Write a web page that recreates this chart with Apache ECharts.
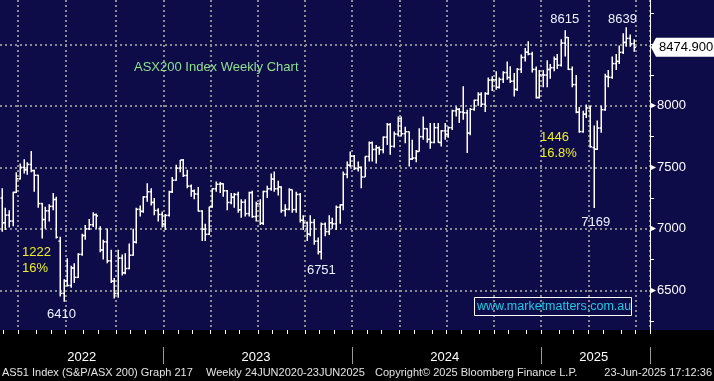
<!DOCTYPE html>
<html>
<head>
<meta charset="utf-8">
<script src="https://cdn.jsdelivr.net/npm/echarts@6/dist/echarts.min.js"></script>
<style>
html,body{margin:0;padding:0;background:#000;}
#c{width:714px;height:381px;}
</style>
</head>
<body>
<div id="c"></div>
<script>
// ---- data (weekly OHLC, ASX200, weeks ending Friday starting 25 Feb 2022) ----
const firstWeek = '2022-02-25';
const futureWeeks = 4;
const opens = [7250,7049,7111,7063,7296,7406,7499,7479,7523,7473,
7435,7205,7075,7146,7182,7238,6900,6475,6578,6539,
6681,6605,6792,6945,6999,7033,7115,7000,6828,6894,
6739,6574,6474,6762,6642,6677,6785,6892,7158,7142,
7259,7301,7214,7149,7116,7038,7109,7300,7395,7493,
7559,7433,7347,7307,7283,7144,6996,6955,7178,7325,
7362,7366,7309,7214,7256,7279,7154,7216,7123,7294,
7099,7203,7045,7303,7325,7404,7325,7340,7148,7158,
7318,7156,7279,7069,7048,6956,7051,6899,6813,7038,
6977,7049,7040,7175,7195,7443,7517,7590,7489,7499,
7421,7588,7699,7645,7659,7643,7745,7847,7670,7770,
7896,7773,7789,7567,7575,7629,7749,7814,7727,7702,
7822,7702,7796,7768,7822,7959,7971,7949,7943,7778,
7971,8045,8092,8013,8099,8209,8212,8150,8214,8270,
8230,8200,8133,8296,8393,8436,8421,8296,8067,8251,
8250,8295,8310,8380,8330,8510,8555,8296,8172,7948,
7790,7932,7982,7660,7647,7819,7968,8238,8231,8343,
8361,8434,8515,8548,8505];
const highs = [7330,7170,7150,7300,7460,7530,7565,7540,7632,7480,
7440,7210,7180,7200,7290,7260,6935,6590,6760,6700,
6720,6800,6960,7030,7080,7135,7125,7020,6910,7003,
6830,6600,6830,6790,6800,6880,7000,7170,7190,7265,
7370,7330,7250,7166,7140,7120,7310,7420,7520,7560,
7568,7480,7360,7320,7340,7150,7040,7180,7330,7385,
7380,7370,7315,7290,7290,7300,7240,7240,7300,7310,
7220,7240,7310,7350,7450,7465,7390,7345,7200,7330,
7320,7300,7290,7110,7060,7110,7080,6930,7050,7050,
7110,7090,7190,7200,7465,7546,7628,7600,7546,7506,
7590,7709,7710,7682,7669,7750,7860,7860,7791,7913,
7913,7830,7791,7723,7641,7818,7913,7818,7859,7860,
7860,7804,7859,7832,7968,7995,7981,8158,7968,7981,
8050,8110,8110,8110,8230,8240,8280,8230,8280,8361,
8321,8266,8307,8416,8470,8524,8440,8320,8290,8290,
8370,8340,8400,8420,8540,8615,8560,8320,8250,7990,
7960,8010,8000,7840,7880,8000,8260,8290,8400,8420,
8490,8590,8639,8580,8540];
const lows = [6975,6990,7010,7020,7290,7400,7450,7440,7460,7300,
7170,6920,7000,7060,7150,6920,6450,6406,6530,6520,
6560,6600,6780,6910,6990,7015,7000,6810,6750,6720,
6560,6433,6440,6620,6630,6670,6780,6880,7100,7130,
7220,7190,7110,7060,7010,6990,7100,7290,7390,7460,
7420,7330,7260,7240,7140,6900,6900,6950,7170,7300,
7290,7260,7150,7200,7170,7130,7090,7100,7100,7090,
7060,7030,7030,7250,7310,7300,7270,7130,7100,7150,
7130,7130,7050,6990,6900,6940,6870,6790,6751,6940,
6950,7000,6990,7040,7150,7410,7500,7478,7465,7330,
7420,7546,7546,7530,7601,7614,7682,7601,7660,7750,
7750,7696,7506,7560,7540,7628,7723,7700,7650,7696,
7700,7669,7723,7740,7804,7913,7859,7886,7617,7760,
7960,8000,7990,7950,8090,8120,8130,8140,8185,8212,
8185,8076,8120,8266,8361,8410,8270,8060,8060,8150,
8150,8220,8280,8300,8320,8400,8290,8150,7940,7780,
7780,7900,7660,7169,7640,7780,7960,8150,8220,8290,
8340,8420,8480,8480,8440];
const closes = [7049,7111,7063,7296,7406,7499,7479,7523,7473,7435,
7205,7075,7146,7182,7238,6931,6475,6578,6539,6681,
6605,6792,6945,6999,7033,7115,7105,6828,6894,6739,
6574,6474,6762,6642,6677,6785,6892,7158,7142,7259,
7301,7214,7149,7116,7038,7109,7300,7395,7493,7559,
7433,7347,7307,7283,7144,6996,6955,7178,7325,7362,
7366,7309,7214,7256,7279,7154,7216,7123,7294,7099,
7203,7045,7303,7325,7404,7325,7340,7148,7158,7318,
7156,7279,7069,7048,6956,7051,6899,6813,7038,6977,
7049,7040,7175,7195,7443,7517,7590,7489,7499,7421,
7588,7699,7645,7659,7643,7745,7847,7670,7770,7896,
7773,7789,7567,7575,7629,7749,7814,7727,7702,7822,
7702,7796,7768,7822,7959,7971,7949,7943,7778,7971,
8045,8092,8013,8099,8209,8212,8150,8214,8270,8230,
8200,8133,8296,8393,8436,8421,8296,8067,8251,8250,
8295,8310,8380,8330,8510,8555,8296,8172,7948,7790,
7932,7982,7667,7647,7819,7968,8238,8231,8343,8361,
8434,8515,8548,8505,8474.9];

const yGridValues = [6500, 7000, 7500, 8000, 8500];
const yTickValues = [6250, 6500, 6750, 7000, 7250, 7500, 7750, 8000, 8250, 8500, 8750];
const yLabelValues = [6500, 7000, 7500, 8000];
const lastPrice = 8474.9;
const extremeLabels = [
  {text: '8615', week: 155, value: 8615},
  {text: '8639', week: 172, value: 8639},
  {text: '7169', week: 163, value: 7169},
  {text: '6751', week: 88,  value: 6751},
  {text: '6410', week: 17,  value: 6406}
];
const footerParts = ['AS51 Index (S&P/ASX 200) Graph 217', 'Weekly 24JUN2020-23JUN2025',
  'Copyright\u00A9 2025 Bloomberg Finance L.P.', '23-Jun-2025 17:12:36'];

// ---- categories ----
const t0 = Date.parse(firstWeek + 'T00:00:00Z');
const weeks = [];
for (let i = 0; i < opens.length + futureWeeks; i++) {
  weeks.push(new Date(t0 + i * 7 * 86400000).toISOString().slice(0, 10));
}
const mon = s => +s.slice(5, 7);
const monthStart = weeks.map((w, i) => i > 0 && mon(w) !== mon(weeks[i - 1]));
const quarterStart = weeks.map((w, i) => monthStart[i] && (mon(w) - 1) % 3 === 0);
const yearStart = weeks.map((w, i) => monthStart[i] && mon(w) === 1);
const yearLabelIdx = {};
(function () {
  const span = {};
  weeks.forEach((w, i) => {
    const y = w.slice(0, 4);
    if (!span[y]) span[y] = [i, i]; else span[y][1] = i;
  });
  Object.keys(span).forEach(y => { yearLabelIdx[Math.floor((span[y][0] + span[y][1]) / 2)] = y; });
})();

const ohlc = opens.map((o, i) => [i, o, highs[i], lows[i], closes[i]]);

const FONT = 'Liberation Sans';
const GRID_COLOR = '#8c8c8c';
const NAVY = '#0e0c48';

const chart = echarts.init(document.getElementById('c'), null, {width: 714, height: 381});

const option = {
  backgroundColor: NAVY,
  animation: false,
  grid: {left: 0, top: 0, width: 650, height: 330, containLabel: false},
  xAxis: [{
    type: 'category', data: weeks, boundaryGap: true,
    axisLine: {show: false},
    axisTick: {show: true, length: 4, interval: (i) => monthStart[i], lineStyle: {color: '#fff', width: 1}},
    axisLabel: {show: false},
    splitLine: {show: true, interval: (i) => quarterStart[i], lineStyle: {color: GRID_COLOR, width: 2, type: [2, 3]}}
  }, {
    type: 'category', data: weeks, boundaryGap: true, position: 'bottom', offset: 17,
    axisLine: {show: false},
    axisTick: {show: true, length: 17, interval: (i) => yearStart[i], lineStyle: {color: '#9a9a9a', width: 1}},
    axisLabel: {show: true, interval: (i) => yearLabelIdx[i] !== undefined, margin: 4,
      formatter: (v) => v.slice(0, 4), color: '#ffffff', fontFamily: FONT, fontSize: 13},
    splitLine: {show: false}
  }],
  yAxis: {
    type: 'value', position: 'right', min: 6177, max: 8860, scale: true,
    axisLine: {show: true, lineStyle: {color: '#ffffff', width: 1}},
    axisTick: {show: true, length: 4, customValues: yTickValues, lineStyle: {color: '#ffffff'}},
    splitLine: {show: false},
    axisLabel: {
      show: true, customValues: yLabelValues, margin: 1,
      formatter: (v) => '{ar|\u25B8}{v|' + v + '}',
      rich: {
        ar: {color: '#ffffff', fontSize: 10, fontFamily: 'DejaVu Sans', padding: [0, 1, 0, 0]},
        v: {color: '#ffffff', fontSize: 13, fontFamily: FONT}
      }
    }
  },
  series: [{
    type: 'custom',
    name: 'AS51',
    data: ohlc,
    encode: {x: 0, y: [1, 2, 3, 4]},
    clip: true,
    z: 5,
    renderItem: function (params, api) {
      const i = api.value(0);
      const hi = api.coord([i, api.value(2)]);
      const lo = api.coord([i, api.value(3)]);
      const op = api.coord([i, api.value(1)]);
      const cl = api.coord([i, api.value(4)]);
      const bw = api.size([1, 0])[0];
      const x = Math.round(hi[0]) + 0.25;
      const t = bw * 0.5;
      const st = {stroke: '#ffffff', lineWidth: 1.5};
      return {
        type: 'group',
        children: [
          {type: 'line', shape: {x1: x, y1: hi[1], x2: x, y2: lo[1]}, style: st},
          {type: 'line', shape: {x1: x - t, y1: op[1], x2: x, y2: op[1]}, style: st},
          {type: 'line', shape: {x1: x, y1: cl[1], x2: x + t, y2: cl[1]}, style: st}
        ]
      };
    }
  }, {
    type: 'line',
    name: 'annotations',
    data: [],
    z: 6,
    markLine: {
      silent: true, symbol: ['none', 'none'], animation: false,
      label: {show: false},
      lineStyle: {color: GRID_COLOR, width: 2, type: [2, 3]},
      data: yGridValues.map(v => ({yAxis: v}))
    },
    markPoint: {
      silent: true, symbol: 'circle', symbolSize: 0, animation: false,
      data: extremeLabels.map((e, k) => ({
        coord: [weeks[e.week], e.value],
        label: {
          show: true, formatter: e.text, color: '#eef2ff', fontFamily: FONT, fontSize: 13,
          position: 'inside',
          offset: [[0, -11], [-4, -8], [2, 14], [0, 11], [-2, 13]][k]
        }
      }))
    }
  }]
};
chart.setOption(option);

const yTag = chart.convertToPixel({yAxisIndex: 0}, lastPrice);
const txt = (text, x, y, fill, size, align) => ({
  type: 'text', x: x, y: y, silent: true,
  style: {text: text, fill: fill, font: size + 'px "' + FONT + '"', align: align || 'left', verticalAlign: 'middle'}
});
chart.setOption({
  graphic: [
    {type: 'rect', z: -10, silent: true, shape: {x: 0, y: 330, width: 714, height: 51}, style: {fill: '#000000'}},
    txt('ASX200 Index Weekly Chart', 134, 67, '#8fe08f', 13),
    txt('1222', 22, 252, '#eeee22', 13),
    txt('16%', 22, 268, '#eeee22', 13),
    txt('1446', 540, 137, '#eeee22', 13),
    txt('16.8%', 540, 153, '#eeee22', 13),
    {type: 'rect', silent: true, z: 10, shape: {x: 474.5, y: 297.5, width: 157, height: 18},
      style: {fill: 'none', stroke: '#ffffff', lineWidth: 1}},
    txt('www.marketmatters.com.au', 477, 307, '#22c8e8', 12.5),
    {type: 'polygon', silent: true, z: 10,
      shape: {points: [[651, yTag], [656, yTag - 9.5], [714, yTag - 9.5], [714, yTag + 9.5], [656, yTag + 9.5]]},
      style: {fill: '#ffffff'}},
    Object.assign(txt(lastPrice.toFixed(3), 659, yTag, '#000000', 13), {z: 11}),
    txt(footerParts[0], 2, 373, '#e4e4e4', 11),
    txt(footerParts[1], 206, 373, '#e4e4e4', 11),
    txt(footerParts[2], 375, 373, '#e4e4e4', 11),
    txt(footerParts[3], 712, 373, '#e4e4e4', 11, 'right')
  ]
});
</script>
</body>
</html>
